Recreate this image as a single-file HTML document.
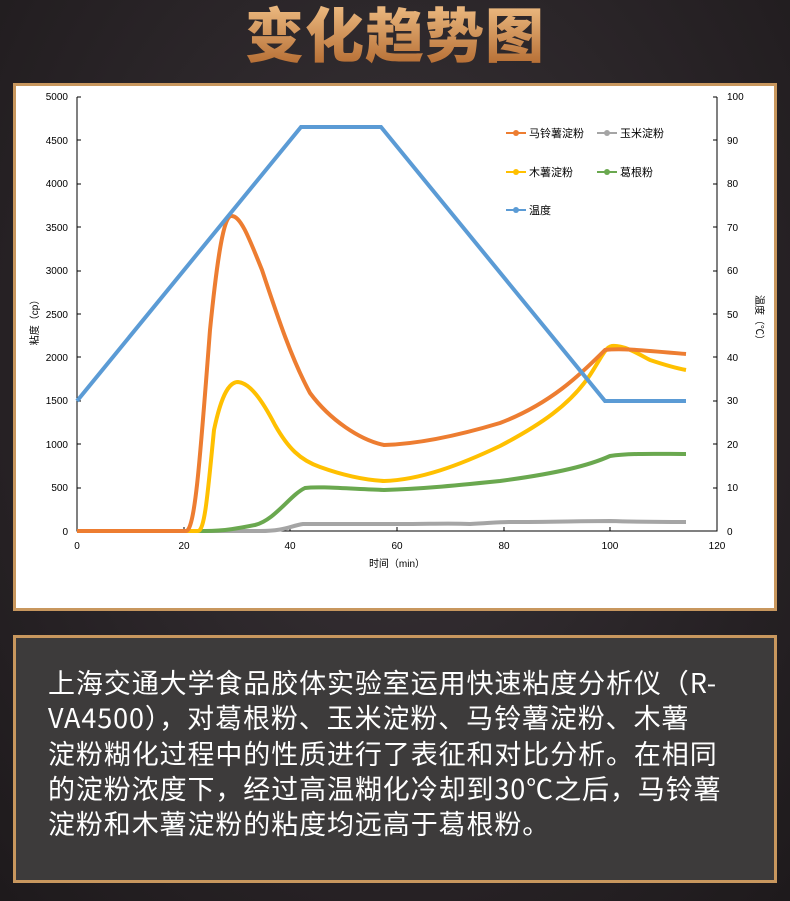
<!DOCTYPE html>
<html><head><meta charset="utf-8"><style>
body{margin:0;width:790px;height:901px;background:#2b2629;overflow:hidden;font-family:"Liberation Sans","Noto Sans CJK SC",sans-serif;}
.bg{position:absolute;left:0;top:0;width:790px;height:901px;background:radial-gradient(ellipse at 50% 40%,#3a3438 0%,#262124 70%,#1e1a1c 100%);}
.title{position:absolute;left:0;width:790px;top:-4px;text-align:center;font-size:59px;font-weight:900;line-height:72px;letter-spacing:1px;color:#d89a5a;background:linear-gradient(#f4c58c,#b36a30);-webkit-background-clip:text;background-clip:text;-webkit-text-fill-color:transparent;font-family:"Noto Sans CJK SC",sans-serif;}
.panel{position:absolute;left:13px;top:83px;width:758px;height:522px;background:#fff;border:3px solid #c8975e;}
.box{position:absolute;left:13px;top:635px;width:758px;height:242px;background:#3d3b3b;border:3px solid #c8975e;}
.txt{position:absolute;left:48px;top:664px;width:740px;color:#fff;font-size:27px;letter-spacing:0.9px;line-height:35.3px;white-space:nowrap;font-family:"Noto Sans CJK SC",sans-serif;}
</style></head><body>
<div class="bg"></div>
<div class="title">变化趋势图</div>
<div class="panel"></div>
<svg style="position:absolute;left:0;top:0" width="790" height="901" font-family="Liberation Sans,Noto Sans CJK SC,sans-serif">
<g font-size="10" fill="#000" text-anchor="end">
<text x="68" y="100">5000</text><text x="68" y="144">4500</text><text x="68" y="187">4000</text><text x="68" y="231">3500</text><text x="68" y="274">3000</text><text x="68" y="318">2500</text><text x="68" y="361">2000</text><text x="68" y="404">1500</text><text x="68" y="448">1000</text><text x="68" y="491">500</text><text x="68" y="535">0</text>
</g>
<g font-size="10" fill="#000">
<text x="727" y="100">100</text><text x="727" y="144">90</text><text x="727" y="187">80</text><text x="727" y="231">70</text><text x="727" y="274">60</text><text x="727" y="318">50</text><text x="727" y="361">40</text><text x="727" y="404">30</text><text x="727" y="448">20</text><text x="727" y="491">10</text><text x="727" y="535">0</text>
</g>
<g font-size="10" fill="#000" text-anchor="middle">
<text x="77" y="549">0</text><text x="184" y="549">20</text><text x="290" y="549">40</text><text x="397" y="549">60</text><text x="504" y="549">80</text><text x="610" y="549">100</text><text x="717" y="549">120</text>
<text x="397" y="567" font-size="10">时间（min）</text>
<text transform="translate(38,320) rotate(-90)" font-size="10">粘度（cp）</text>
<text transform="translate(756,320) rotate(90)" font-size="10">温度（℃）</text>
</g>
<g stroke="#000" stroke-width="1" fill="none">
<path d="M77 97V531H717V97"/>
<path d="M77 97h4M77 140h4M77 184h4M77 227h4M77 271h4M77 314h4M77 357h4M77 401h4M77 444h4M77 488h4M717 97h-4M717 140h-4M717 184h-4M717 227h-4M717 271h-4M717 314h-4M717 357h-4M717 401h-4M717 444h-4M717 488h-4M184 531v-4M290 531v-4M397 531v-4M504 531v-4M610 531v-4"/>
</g>
<path d="M77 531H260C285 531 290 526 303 524C330 524 350 524 400 524C430 524 450 523 470 524C490 523 500 522 510 522C550 522 580 521 610 521C640 522 660 522 686 522" stroke="#a5a5a5" stroke-width="4" fill="none"/>
<path d="M77 531H205C225 531 240 528 255 525C275 520 290 495 305 488C320 486 350 489 384 490C420 489 450 486 500 481C560 473 590 465 610 456C630 453 660 454 686 454" stroke="#6aa84f" stroke-width="4" fill="none"/>
<path d="M77 531H198C205 531 208 490 214 430C222 392 230 382 238 382C250 383 262 400 275 425C288 448 300 460 320 467C345 476 365 480 384 481C420 480 460 465 500 446C540 425 570 405 590 375C600 360 605 347 612 346C625 345 640 355 650 360C665 365 675 368 686 370" stroke="#ffc000" stroke-width="4" fill="none"/>
<path d="M77 531H186C195 531 200 460 210 330C218 250 224 218 231 216C240 215 248 235 262 270C278 318 292 360 310 393C330 420 360 440 384 445C420 444 460 435 500 423C550 404 580 375 605 350C620 348 640 350 686 354" stroke="#ed7d31" stroke-width="4" fill="none"/>
<path d="M77 401L301 127H381L605 401H686" stroke="#5b9bd5" stroke-width="4" fill="none"/>
<g font-size="11" fill="#000">
<line x1="506" y1="133" x2="526" y2="133" stroke="#ed7d31" stroke-width="2"/><circle cx="516" cy="133" r="3" fill="#ed7d31"/><text x="529" y="137">马铃薯淀粉</text>
<line x1="597" y1="133" x2="617" y2="133" stroke="#a5a5a5" stroke-width="2"/><circle cx="607" cy="133" r="3" fill="#a5a5a5"/><text x="620" y="137">玉米淀粉</text>
<line x1="506" y1="172" x2="526" y2="172" stroke="#ffc000" stroke-width="2"/><circle cx="516" cy="172" r="3" fill="#ffc000"/><text x="529" y="176">木薯淀粉</text>
<line x1="597" y1="172" x2="617" y2="172" stroke="#6aa84f" stroke-width="2"/><circle cx="607" cy="172" r="3" fill="#6aa84f"/><text x="620" y="176">葛根粉</text>
<line x1="506" y1="210" x2="526" y2="210" stroke="#5b9bd5" stroke-width="2"/><circle cx="516" cy="210" r="3" fill="#5b9bd5"/><text x="529" y="214">温度</text>
</g>
</svg>
<div class="box"></div>
<div class="txt">上海交通大学食品胶体实验室运用快速粘度分析仪（R-<br>VA4500），对葛根粉、玉米淀粉、马铃薯淀粉、木薯<br>淀粉糊化过程中的性质进行了表征和对比分析。在相同<br>的淀粉浓度下，经过高温糊化冷却到30℃之后，马铃薯<br>淀粉和木薯淀粉的粘度均远高于葛根粉。</div>
</body></html>
